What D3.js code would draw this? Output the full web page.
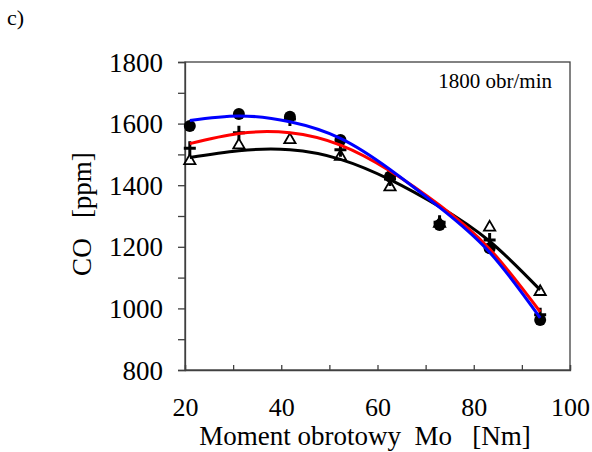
<!DOCTYPE html>
<html>
<head>
<meta charset="utf-8">
<script src="https://cdn.jsdelivr.net/npm/d3@7"></script>
<style>
  body { margin: 0; background: #fff; }
</style>
</head>
<body>
<svg id="chart" width="592" height="452"></svg>
<script>
const torque = [21, 31.2, 41.8, 52.3, 62.6, 72.9, 83.3, 93.8];

// measured points
const circlesCO = [1592, 1631, 1622, 1547, 1428, 1271, 1195, 962];
const crossesCO = [1520, 1570, 1615, 1515, 1420, 1280, 1222, 979];
const trianglesCO = [1479, 1530, 1547, 1493, 1394, 1275, 1263, 1054];

// trend lines
const blueFit = [1610, 1625, 1606, 1552, 1451, 1328, 1182, 969];
const redFit = [1535, 1568, 1570, 1530, 1446, 1335, 1193, 989];
const blackFit = [1490, 1512, 1515, 1484, 1418, 1330, 1218, 1060];

const xTicks = [20, 40, 60, 80, 100];
const yTicks = [800, 1000, 1200, 1400, 1600, 1800];

const FONT = "'Liberation Serif', 'DejaVu Serif', serif";

const svg = d3.select("#chart").style("font-family", FONT);
const pL = 185, pR = 570, pT = 62, pB = 370;

const x = d3.scaleLinear().domain([20, 100]).range([pL, pR]);
const y = d3.scaleLinear().domain([800, 1800]).range([pB, pT]);

svg.append("text").attr("x", 7).attr("y", 25)
  .style("font-family", FONT).style("font-size", "22px").text("c)");

// frame
svg.append("rect")
  .attr("x", pL).attr("y", pT)
  .attr("width", pR - pL).attr("height", pB - pT)
  .attr("fill", "none").attr("stroke", "#404040").attr("stroke-width", 1.3);

// y axis: ticks every 100 outside, labels every 200
const yAxis = svg.append("g").attr("transform", `translate(${pL},0)`)
  .call(d3.axisLeft(y).tickValues(d3.range(800, 1801, 100)).tickSize(7)
    .tickFormat(d => yTicks.includes(d) ? d : ""));
yAxis.attr("font-family", null).attr("font-size", null);
yAxis.select(".domain").attr("stroke", "#404040").attr("stroke-width", 1.3);
yAxis.selectAll(".tick line").attr("stroke", "#404040").attr("stroke-width", 1.3);
yAxis.selectAll(".tick text")
  .style("font-family", FONT).style("font-size", "27px").attr("fill", "#000")
  .attr("x", -22).attr("dy", "0.34em");

// x axis: ticks every 10 inside, labels every 20
const xAxis = svg.append("g").attr("transform", `translate(0,${pB})`)
  .call(d3.axisBottom(x).tickValues(d3.range(20, 101, 10)).tickSize(-5)
    .tickFormat(d => xTicks.includes(d) ? d : ""));
xAxis.attr("font-family", null).attr("font-size", null);
xAxis.select(".domain").attr("stroke", "#404040").attr("stroke-width", 1.3);
xAxis.selectAll(".tick text")
  .style("font-family", FONT).style("font-size", "26px").attr("fill", "#000")
  .attr("y", 28).attr("dy", "0.71em");
xAxis.selectAll(".tick line").attr("stroke", "#404040").attr("stroke-width", 1.3);

// axis titles
svg.append("text")
  .attr("transform", `translate(91,${(pT + pB) / 2 - 2}) rotate(-90)`)
  .attr("text-anchor", "middle")
  .style("font-family", FONT).style("font-size", "27px")
  .style("white-space", "pre")
  .text("CO   [ppm]");

svg.append("text")
  .attr("x", 365).attr("y", 445)
  .attr("text-anchor", "middle")
  .style("font-family", FONT).style("font-size", "27px")
  .style("white-space", "pre")
  .text("Moment obrotowy  Mo   [Nm]");

svg.append("text")
  .attr("x", 552).attr("y", 88)
  .attr("text-anchor", "end")
  .style("font-family", FONT).style("font-size", "21px")
  .text("1800 obr/min");

// markers
const pts = vals => torque.map((t, i) => ({ t, v: vals[i] }));

svg.append("g").selectAll("path")
  .data(pts(trianglesCO))
  .join("path")
  .attr("transform", d => `translate(${x(d.t)},${y(d.v)})`)
  .attr("d", d3.symbol(d3.symbolTriangle, 55))
  .attr("fill", "#fff").attr("stroke", "#000").attr("stroke-width", 1.8);

svg.append("g").selectAll("path")
  .data(pts(crossesCO))
  .join("path")
  .attr("transform", d => `translate(${x(d.t)},${y(d.v)})`)
  .attr("d", "M-6,0H6M0,-7V7")
  .attr("stroke", "#000").attr("stroke-width", 3);

svg.append("g").selectAll("circle")
  .data(pts(circlesCO))
  .join("circle")
  .attr("cx", d => x(d.t))
  .attr("cy", d => y(d.v))
  .attr("r", 6)
  .attr("fill", "#000");

// trend lines
const line = d3.line()
  .x(d => x(d.t))
  .y(d => y(d.v))
  .curve(d3.curveNatural);

[[blackFit, "#000"], [redFit, "#ff0000"], [blueFit, "#0000ff"]].forEach(([vals, col]) => {
  svg.append("path")
    .datum(pts(vals))
    .attr("d", line)
    .attr("fill", "none")
    .attr("stroke", col)
    .attr("stroke-width", 3);
});
</script>
</body>
</html>
